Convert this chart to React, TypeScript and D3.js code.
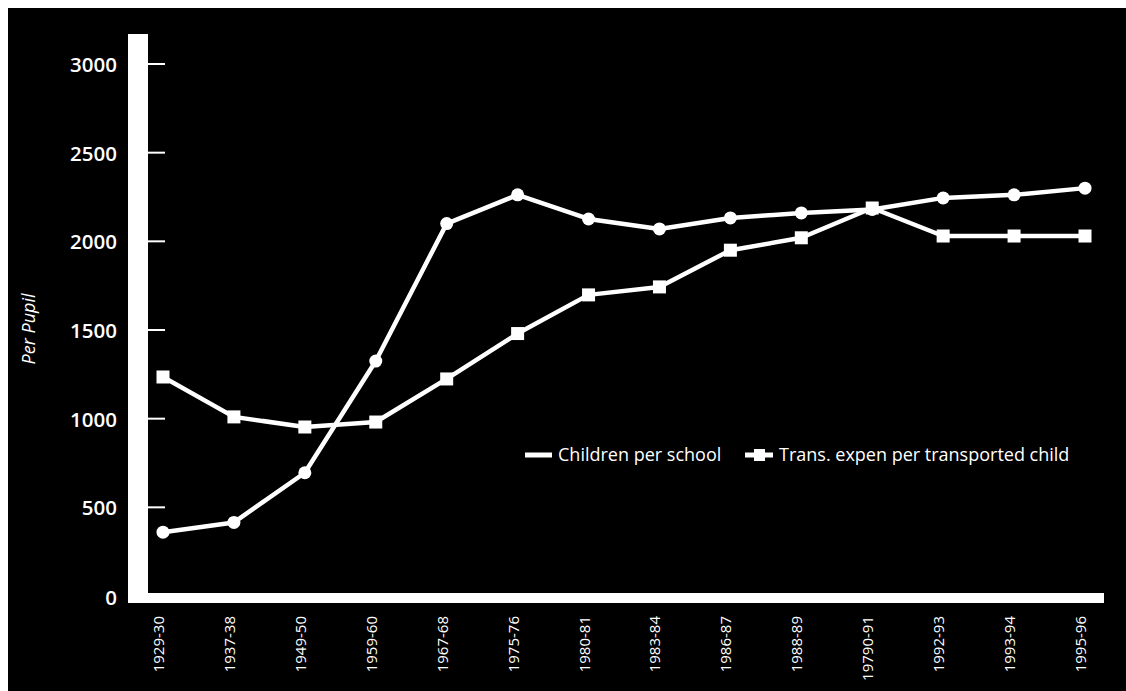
import React from "react";
import * as d3 from "d3";

const categories = [
  "1929-30", "1937-38", "1949-50", "1959-60", "1967-68", "1975-76", "1980-81",
  "1983-84", "1986-87", "1988-89", "19790-91", "1992-93", "1993-94", "1995-96",
];
const childrenPerSchool = [360, 415, 695, 1325, 2100, 2262, 2126, 2070, 2132, 2160, 2180, 2245, 2262, 2300];
const transExpen = [1235, 1010, 953, 981, 1224, 1480, 1698, 1743, 1950, 2020, 2188, 2030, 2030, 2030];
const yTicks = [0, 500, 1000, 1500, 2000, 2500, 3000];
const seriesNames = ["Children per school", "Trans. expen per transported child"];

const W = 1118;
const H = 683;

export default function App() {
  const x = d3.scalePoint<string>().domain(categories).range([155, 1077]);
  const y = d3.scaleLinear().domain([0, 3000]).range([588, 56]);
  const line = d3
    .line<number>()
    .x((_, i) => x(categories[i]) as number)
    .y((d) => y(d));

  const axisLeft = 120;
  const axisW = 20;
  const xEnd = (x.range()[1] as number) + 19;
  const font = "'Open Sans', 'Noto Sans', sans-serif";

  return (
    <svg
      width={W}
      height={H}
      style={{ position: "fixed", left: 8, top: 8, display: "block" }}
      fontFamily={font}
    >
      <rect x={0} y={0} width={W} height={H} fill="#000" />
      {/* y axis bar */}
      <rect x={axisLeft} y={26} width={axisW} height={y(0) + 7 - 26} fill="#fff" />
      {/* x axis bar */}
      <rect x={axisLeft} y={y(0) - 3} width={xEnd - axisLeft} height={10} fill="#fff" />
      {yTicks.map((t) => (
        <g key={t}>
          {t > 0 && (
            <line x1={axisLeft + axisW} x2={axisLeft + axisW + 17} y1={y(t)} y2={y(t)} stroke="#fff" strokeWidth={2} />
          )}
          <text
            x={109}
            y={t === 0 ? y(t) + 1 : y(t)}
            textAnchor="end"
            dominantBaseline="central"
            fill="#fff"
            fontSize={20.5}
            fontWeight={600}
          >
            {t}
          </text>
        </g>
      ))}
      <text
        transform={`translate(20,321) rotate(-90)`}
        textAnchor="middle"
        dominantBaseline="central"
        fill="#fff"
        fontSize={18}
        fontStyle="italic"
      >
        Per Pupil
      </text>
      {categories.map((c) => (
        <text
          key={c}
          transform={`translate(${(x(c) as number) - 5},608) rotate(-90)`}
          textAnchor="end"
          dominantBaseline="central"
          fill="#fff"
          fontSize={15}
        >
          {c}
        </text>
      ))}
      <path d={line(transExpen) || ""} fill="none" stroke="#fff" strokeWidth={4.5} strokeLinejoin="round" />
      <path d={line(childrenPerSchool) || ""} fill="none" stroke="#fff" strokeWidth={4.5} strokeLinejoin="round" />
      {transExpen.map((v, i) => (
        <rect
          key={"s" + i}
          x={(x(categories[i]) as number) - 6.5}
          y={y(v) - 6.5}
          width={13}
          height={13}
          fill="#fff"
        />
      ))}
      {childrenPerSchool.map((v, i) => (
        <circle key={"c" + i} cx={x(categories[i]) as number} cy={y(v)} r={6.5} fill="#fff" />
      ))}
      {/* legend */}
      <line x1={517} x2={544} y1={447} y2={447} stroke="#fff" strokeWidth={5} />
      <text x={550} y={453} fill="#fff" fontSize={18}>
        {seriesNames[0]}
      </text>
      <line x1={737} x2={765} y1={447} y2={447} stroke="#fff" strokeWidth={5} />
      <rect x={746} y={441} width={11} height={12} fill="#fff" />
      <text x={771} y={453} fill="#fff" fontSize={18}>
        {seriesNames[1]}
      </text>
    </svg>
  );
}
